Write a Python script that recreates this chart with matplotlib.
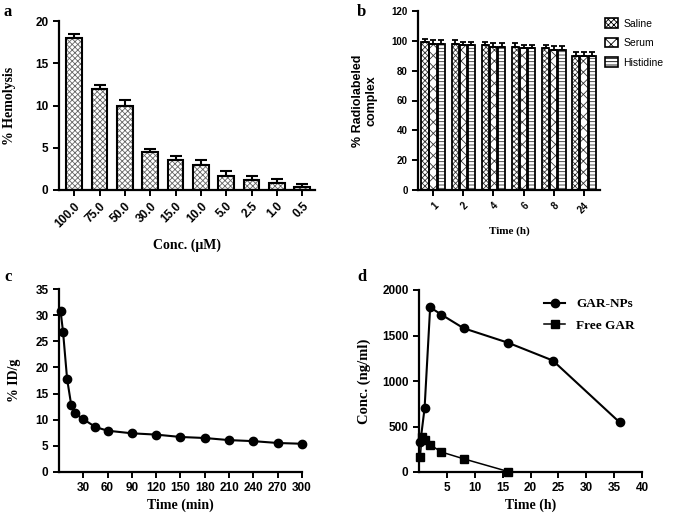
import numpy as np
import matplotlib
matplotlib.use("Agg")
import matplotlib.pyplot as plt
import matplotlib.patches as mpatches

# ---------------- data ----------------
hemo_labels = ["100.0", "75.0", "50.0", "30.0", "15.0", "10.0", "5.0", "2.5", "1.0", "0.5"]
hemo_vals = [18.0, 12.0, 10.0, 4.5, 3.5, 3.0, 1.6, 1.2, 0.8, 0.3]
hemo_err = [0.5, 0.4, 0.6, 0.4, 0.5, 0.6, 0.6, 0.4, 0.5, 0.4]

stab_labels = ["1", "2", "4", "6", "8", "24"]
saline = [99, 98, 97, 96, 95, 90]
serum = [98, 97, 96, 95, 94, 90]
histidine = [98, 97, 96, 95, 94, 90]
stab_err = [2.5, 2.5, 2.5, 2.5, 2.5, 2.5]

blood_time = [2, 5, 10, 15, 20, 30, 45, 60, 90, 120, 150, 180, 210, 240, 270, 300]
blood_idg = [30.7, 26.8, 17.8, 12.9, 11.2, 10.1, 8.6, 7.9, 7.4, 7.15, 6.7, 6.5, 6.1, 5.9, 5.55, 5.4]

np_time = [0.25, 1, 2, 4, 8, 16, 24, 36]
np_conc = [330, 700, 1810, 1730, 1580, 1420, 1225, 545]
free_time = [0.25, 0.5, 1, 2, 4, 8, 16]
free_conc = [170, 390, 350, 300, 220, 145, 5]

# ---------------- style ----------------
W, H = 675, 520
plt.rcParams["hatch.linewidth"] = 0.6
sans = ["Liberation Sans", "DejaVu Sans"]
serif = ["Liberation Serif", "DejaVu Serif"]

fig = plt.figure(figsize=(W / 100, H / 100), dpi=100)


def ax_px(l, t, r, b):
    return fig.add_axes([l / W, 1 - b / H, (r - l) / W, (b - t) / H])


def style(ax, ts=8):
    for s in ["top", "right"]:
        ax.spines[s].set_visible(False)
    for s in ["left", "bottom"]:
        ax.spines[s].set_linewidth(1.6)
    ax.tick_params(width=1.4, length=4, labelsize=ts)
    for lab in ax.get_xticklabels() + ax.get_yticklabels():
        lab.set_fontfamily(sans)
        lab.set_fontweight("bold")


def hatched_bars(ax, x, h, w, hatch, hcol="#444444"):
    ax.bar(x, h, w, facecolor="white", edgecolor=hcol, hatch=hatch, linewidth=0, zorder=2)
    ax.bar(x, h, w, fill=False, edgecolor="black", linewidth=1.5, zorder=3)


# ---- panel a ----
axa = ax_px(59, 21, 315, 190)
xa = np.arange(len(hemo_vals))
hatched_bars(axa, xa, hemo_vals, 0.62, "xxxxxx", "#666666")
axa.errorbar(xa, hemo_vals, yerr=[np.zeros(len(hemo_err)), hemo_err], fmt="none",
             ecolor="black", elinewidth=1.5, capsize=4, capthick=1.5, zorder=4)
axa.set_xlim(-0.6, 9.5)
axa.set_ylim(0, 20)
axa.set_yticks([0, 5, 10, 15, 20])
axa.set_xticks(xa)
axa.set_xticklabels(hemo_labels, rotation=45, ha="right", rotation_mode="anchor")
style(axa, 8.5)
axa.set_ylabel("% Hemolysis", fontfamily=serif, fontweight="bold", fontsize=10, labelpad=14)
axa.set_xlabel("Conc. (\u03bcM)", fontfamily=serif, fontweight="bold", fontsize=10, labelpad=6)

# ---- panel b ----
axb = ax_px(418, 11, 600, 190)
xb = np.arange(len(stab_labels))
bw = 0.24
specs = [(saline, "xxxxxx", "Saline"), (serum, "xxx", "Serum"), (histidine, "-----", "Histidine")]
handles = []
for i, (vals, hatch, name) in enumerate(specs):
    pos = xb + (i - 1) * (bw + 0.03)
    axb.bar(pos, vals, bw, facecolor="white", edgecolor="#333333", hatch=hatch, linewidth=0, zorder=2)
    axb.bar(pos, vals, bw, facecolor="none", edgecolor="black", linewidth=1.3, zorder=3)
    axb.errorbar(pos, vals, yerr=[np.zeros(len(stab_err)), stab_err], fmt="none",
                 ecolor="black", elinewidth=1.3, capsize=2.5, capthick=1.3, zorder=4)
    handles.append(mpatches.Patch(facecolor="white", edgecolor="black", hatch=hatch, linewidth=1.2, label=name))
axb.set_xlim(-0.5, 5.53)
axb.set_ylim(0, 120)
axb.set_yticks(range(0, 121, 20))
axb.set_xticks(xb)
axb.set_xticklabels(stab_labels, rotation=45, ha="right", rotation_mode="anchor")
style(axb, 7)
axb.set_ylabel("% Radiolabeled\ncomplex", fontfamily=sans, fontweight="bold", fontsize=9, labelpad=10)
axb.set_xlabel("Time (h)", fontfamily=serif, fontweight="bold", fontsize=8, labelpad=8)
axb.legend(handles=handles, loc="upper left", bbox_to_anchor=(0.99, 1.0), frameon=False,
           prop={"family": sans, "size": 7.5}, handlelength=1.2, handleheight=1.0,
           handletextpad=0.5, labelspacing=0.9, borderaxespad=0.3)

# ---- panel c ----
axc = ax_px(59, 289, 302, 472)
axc.plot(blood_time, blood_idg, "-o", color="black", lw=1.5, ms=6, zorder=3, clip_on=False)
axc.set_xlim(0, 300)
axc.set_ylim(0, 35)
axc.set_xticks(range(30, 301, 30))
axc.set_yticks(range(0, 36, 5))
style(axc, 8.5)
axc.set_ylabel("% ID/g", fontfamily=serif, fontweight="bold", fontsize=10, labelpad=10)
axc.set_xlabel("Time (min)", fontfamily=serif, fontweight="bold", fontsize=10, labelpad=3)

# ---- panel d ----
axd = ax_px(419, 290, 642, 472)
axd.plot(np_time, np_conc, "-o", color="black", lw=1.5, ms=6, label="GAR-NPs", zorder=3, clip_on=False)
axd.plot(free_time, free_conc, "-s", color="black", lw=1.1, ms=6, label="Free GAR", zorder=3, clip_on=False)
axd.set_xlim(0, 40)
axd.set_ylim(0, 2000)
axd.set_xticks(range(5, 41, 5))
axd.set_yticks(range(0, 2001, 500))
style(axd, 8.5)
axd.set_ylabel("Conc. (ng/ml)", fontfamily=serif, fontweight="bold", fontsize=10.5, labelpad=8)
axd.set_xlabel("Time (h)", fontfamily=serif, fontweight="bold", fontsize=10, labelpad=3)
axd.legend(loc="upper right", bbox_to_anchor=(1.02, 1.02), frameon=False,
           prop={"family": serif, "weight": "bold", "size": 9.5}, handlelength=1.6, labelspacing=0.7)

# ---- panel letters ----
for lbl, (px, py) in zip("abcd", [(4, 12), (357, 12), (4, 277), (357, 277)]):
    fig.text(px / W, 1 - py / H, lbl, fontfamily=serif, fontweight="bold", fontsize=12,
             va="center", ha="left")

fig.savefig("out.png", dpi=100)
